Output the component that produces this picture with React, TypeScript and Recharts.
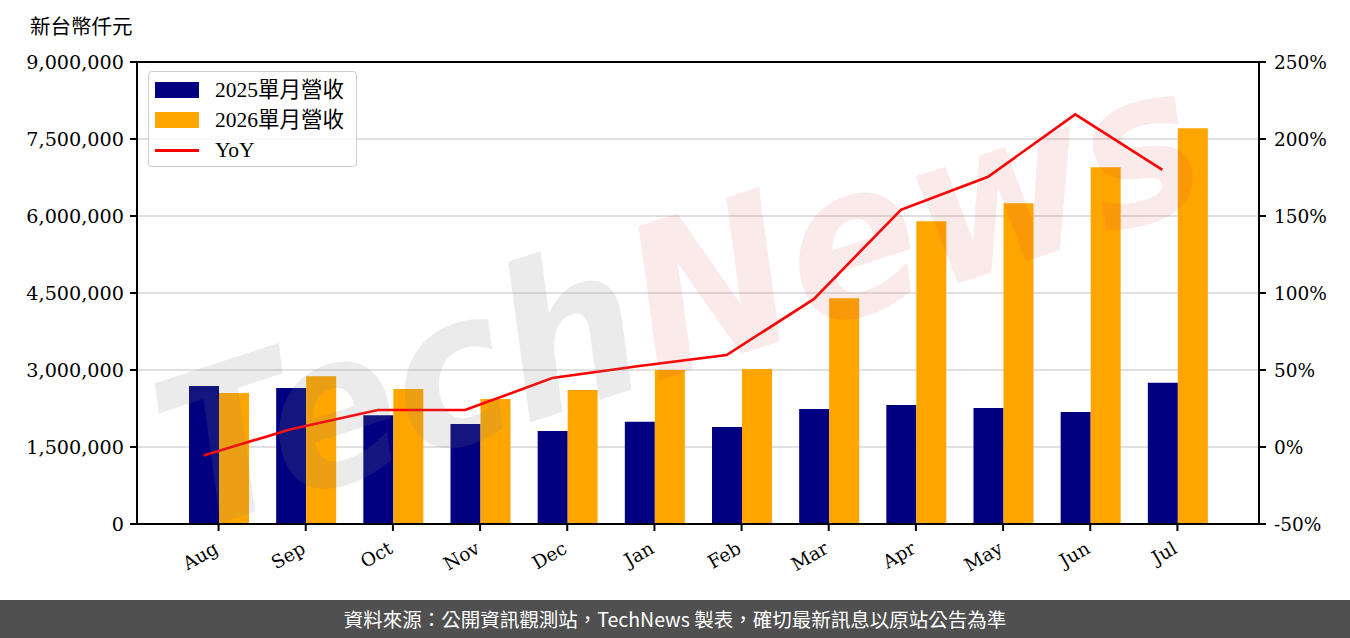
import React from "react";
import {
  Bar,
  CartesianGrid,
  ComposedChart,
  Line,
  ReferenceLine,
  XAxis,
  YAxis,
} from "recharts";

// Monthly revenue, thousand NTD
const months = ["Aug", "Sep", "Oct", "Nov", "Dec", "Jan", "Feb", "Mar", "Apr", "May", "Jun", "Jul"];
const rev2025 = [2690000, 2650000, 2120000, 1950000, 1810000, 1990000, 1890000, 2240000, 2320000, 2260000, 2180000, 2750000];
const rev2026 = [2550000, 2880000, 2630000, 2435000, 2610000, 3000000, 3020000, 4400000, 5900000, 6250000, 6950000, 7710000];
const yoy = [-5.5, 11.5, 24, 24, 44.8, 52.6, 59.7, 96, 154, 175.5, 216, 180];

const leftTicks = [0, 1500000, 3000000, 4500000, 6000000, 7500000, 9000000];
const rightTicks = [-50, 0, 50, 100, 150, 200, 250];

const NAVY = "#000080";
const ORANGE = "#FFA500";
const SERIF = "'DejaVu Serif', 'Noto Sans CJK TC', serif";
const LEGEND_FONT = "'Liberation Serif', 'Noto Sans CJK TC', serif";

const data = months.map((m, i) => ({
  month: m,
  r2025: rev2025[i],
  r2026: rev2026[i],
  yoy: yoy[i],
}));

function XTick({ x, y, payload }: any) {
  return (
    <g transform={`translate(${x + 1},${y + 19})`}>
      <text
        x={0}
        y={0}
        textAnchor="end"
        transform="rotate(-30)"
        fontFamily={SERIF}
        fontSize={18.5}
        fill="#000"
      >
        {payload.value}
      </text>
    </g>
  );
}

function ChartLegend() {
  const rows = [
    { label: "2025單月營收", kind: "bar", color: NAVY },
    { label: "2026單月營收", kind: "bar", color: ORANGE },
    { label: "YoY", kind: "line", color: "#ff0000" },
  ];
  return (
    <div
      style={{
        position: "absolute",
        left: 148,
        top: 71,
        width: 209,
        height: 96,
        border: "1.5px solid #cccccc",
        borderRadius: 4,
        background: "rgba(255,255,255,0.8)",
        boxSizing: "border-box",
        paddingTop: 3,
      }}
    >
      {rows.map((r) => (
        <div key={r.label} style={{ display: "flex", alignItems: "center", height: 30 }}>
          <div style={{ width: 6 }} />
          {r.kind === "bar" ? (
            <div style={{ width: 44, height: 16, background: r.color }} />
          ) : (
            <div style={{ width: 44, height: 3, background: r.color }} />
          )}
          <span
            style={{
              marginLeft: 16,
              fontFamily: LEGEND_FONT,
              fontSize: 21.5,
              color: "#000",
              lineHeight: "22px",
            }}
          >
            {r.label}
          </span>
        </div>
      ))}
    </div>
  );
}

export default function App() {
  return (
    <div style={{ position: "absolute", left: 0, top: 0, width: 1350, height: 638, background: "#fff" }}>
      <div
        style={{
          position: "absolute",
          left: 30,
          top: 13,
          fontFamily: LEGEND_FONT,
          fontSize: 20.5,
          lineHeight: "28px",
          color: "#000",
        }}
      >
        新台幣仟元
      </div>
      <ComposedChart
        width={1350}
        height={600}
        data={data}
        margin={{ top: 62, right: 0, bottom: 0, left: 0 }}
        barSize={30}
        barGap={0}
      >
        <CartesianGrid yAxisId="left" vertical={false} stroke="#d6d6d6" strokeWidth={1.5} />
        <XAxis
          dataKey="month"
          height={76}
          padding={{ left: 38, right: 38 }}
          tick={<XTick />}
          tickSize={7}
          tickLine={{ stroke: "#000", strokeWidth: 2 }}
          axisLine={{ stroke: "#000", strokeWidth: 2 }}
          interval={0}
        />
        {/* hidden axis that shifts the YoY points onto the 2025 bar centres */}
        <XAxis xAxisId="line" dataKey="month" hide padding={{ left: 23, right: 53 }} />
        <YAxis
          yAxisId="left"
          width={137}
          domain={[0, 9000000]}
          ticks={leftTicks}
          interval={0}
          tickFormatter={(v: number) => v.toLocaleString("en-US")}
          tick={{ fontFamily: SERIF, fontSize: 19.2, fill: "#000" }}
          tickSize={7}
          tickMargin={6}
          tickLine={{ stroke: "#000", strokeWidth: 2 }}
          axisLine={{ stroke: "#000", strokeWidth: 2 }}
        />
        <YAxis
          yAxisId="right"
          orientation="right"
          width={91}
          domain={[-50, 250]}
          ticks={rightTicks}
          interval={0}
          tickFormatter={(v: number) => `${v}%`}
          tick={{ fontFamily: SERIF, fontSize: 18.5, fill: "#000", textAnchor: "start" }}
          tickSize={7}
          tickMargin={8}
          tickLine={{ stroke: "#000", strokeWidth: 2 }}
          axisLine={{ stroke: "#000", strokeWidth: 2 }}
        />
        <ReferenceLine yAxisId="left" y={9000000} stroke="#000" strokeWidth={2} />
        <Bar yAxisId="left" dataKey="r2025" name="2025單月營收" fill={NAVY} isAnimationActive={false} />
        <Bar yAxisId="left" dataKey="r2026" name="2026單月營收" fill={ORANGE} isAnimationActive={false} />
        <Line
          yAxisId="right"
          xAxisId="line"
          dataKey="yoy"
          name="YoY"
          type="linear"
          stroke="#ff0000"
          strokeWidth={2.6}
          dot={false}
          activeDot={false}
          isAnimationActive={false}
        />
      </ComposedChart>
      <ChartLegend />
      {/* watermark */}
      <svg
        width={1350}
        height={600}
        style={{ position: "absolute", left: 0, top: 0, pointerEvents: "none" }}
      >
        <g transform="rotate(-18 680 300)">
          <text
            x={680}
            y={370}
            textAnchor="middle"
            fontFamily="'DejaVu Sans', sans-serif"
            fontWeight="bold"
            fontStyle="italic"
            fontSize={210}
            textLength={1080}
            lengthAdjust="spacingAndGlyphs"
          >
            <tspan fill="#808080" fillOpacity={0.16}>Tech</tspan>
            <tspan fill="#d04040" fillOpacity={0.11}>News</tspan>
          </text>
        </g>
      </svg>
      <div
        style={{
          position: "absolute",
          left: 0,
          top: 600,
          width: 1350,
          height: 38,
          background: "#505050",
          color: "#fff",
          fontFamily: "'Noto Sans CJK TC', 'Noto Sans', sans-serif",
          fontSize: 19.5,
          lineHeight: "38px",
          textAlign: "center",
        }}
      >
        資料來源：公開資訊觀測站，TechNews 製表，確切最新訊息以原站公告為準
      </div>
    </div>
  );
}
